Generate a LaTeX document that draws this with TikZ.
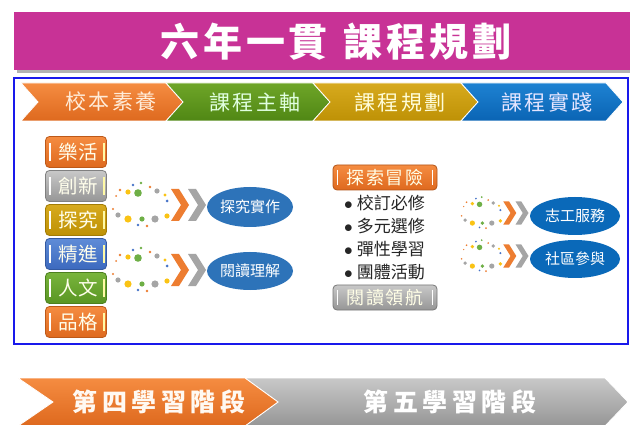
\documentclass[tikz,border=0pt]{standalone}
\usepackage{fontspec}
\newfontfamily\cjk{Noto Sans CJK TC}
\newfontfamily\cjkls{Noto Sans CJK TC}[LetterSpace=10]
\newfontfamily\cjkstage{Noto Sans CJK TC}[LetterSpace=18]
\usetikzlibrary{shapes.geometric}

\definecolor{banner}{RGB}{200,50,150}
\definecolor{frameblue}{RGB}{25,25,235}
\definecolor{orangeA}{RGB}{245,140,65}
\definecolor{orangeB}{RGB}{222,105,30}
\definecolor{greenA}{RGB}{110,165,40}
\definecolor{greenB}{RGB}{80,135,20}
\definecolor{goldA}{RGB}{215,170,30}
\definecolor{goldB}{RGB}{190,145,5}
\definecolor{blueA}{RGB}{30,130,210}
\definecolor{blueB}{RGB}{10,100,180}
\definecolor{grayA}{RGB}{200,200,200}
\definecolor{grayB}{RGB}{150,150,150}
\definecolor{boxblueA}{RGB}{95,140,215}
\definecolor{boxblueB}{RGB}{60,105,190}
\definecolor{boxgreenA}{RGB}{120,180,60}
\definecolor{boxgreenB}{RGB}{90,150,35}
\definecolor{ellblue}{RGB}{45,115,185}
\definecolor{ellblue2}{RGB}{10,105,185}
\definecolor{dotgreen}{RGB}{110,175,70}
\definecolor{dotgray}{RGB}{165,165,165}
\definecolor{dotyellow}{RGB}{250,195,20}
\definecolor{dotorange}{RGB}{237,125,49}
\definecolor{dotblue}{RGB}{70,115,200}

\tikzset{
  titletext/.style={text=white, font=\cjkls\bfseries\fontsize{39}{39}\selectfont},
  stagetitle/.style={font=\cjkstage\bfseries\fontsize{25}{25}\selectfont},
  chevtext/.style={font=\cjkls\fontsize{21}{21}\selectfont},
  chevline/.style={draw=white, line width=0.8pt},
  tagbox/.style={rounded corners=4pt, minimum width=61pt, minimum height=31pt, inner sep=0pt,
    line width=0.8pt, text=white!92!yellow, font=\cjk\fontsize{19.5}{19.5}\selectfont},
  pathbox/.style={rounded corners=4pt, minimum width=104pt, minimum height=25pt, inner sep=0pt,
    line width=0.8pt, text=white!90!yellow, font=\cjkls\fontsize{18}{18}\selectfont},
  litebar/.style={white, line width=1.6pt},
  sidebar/.style={yellow!35!white, line width=1.6pt},
  item/.style={anchor=west, inner sep=0pt, text=black!85, font=\cjk\fontsize{17}{17}\selectfont},
  goal/.style={ellipse, minimum width=86pt, minimum height=40pt, inner sep=0pt, fill=ellblue,
    text=white, font=\cjk\fontsize{15}{15}\selectfont}
}

\begin{document}
\begin{tikzpicture}[x=1pt, y=-1pt]
\useasboundingbox (0,0) rectangle (630,425);

% banner
\fill[black!30] (17,15) rectangle (630,73);
\fill[banner] (14,12) rectangle (630,70);
\node[titletext] (title) at (336,42) {六年一貫\hspace{16pt}課程規劃};

% frame
\draw[frameblue, line width=2.5pt, fill=white] (14,78) rectangle (628,344);

% stage chevrons
\path[chevline, top color=orangeA, bottom color=orangeB] (21,83) -- (166,83) -- (183,102) -- (166,121) -- (21,121) -- (38,102) -- cycle;
\path[chevline, top color=greenA, bottom color=greenB] (166,83) -- (313,83) -- (330,102) -- (313,121) -- (166,121) -- (183,102) -- cycle;
\path[chevline, top color=goldA, bottom color=goldB] (313,83) -- (461,83) -- (478,102) -- (461,121) -- (313,121) -- (330,102) -- cycle;
\path[chevline, top color=blueA, bottom color=blueB] (461,83) -- (606,83) -- (623,102) -- (606,121) -- (461,121) -- (478,102) -- cycle;
\node[chevtext, text=white!85!orange] (school) at (111,102) {校本素養};
\node[chevtext, text=white!88!green] (axis) at (255,102) {課程主軸};
\node[chevtext, text=white!85!yellow] (plan) at (400,102) {課程規劃};
\node[chevtext, text=white!90!blue] (practice) at (547,102) {課程實踐};

% left column
\foreach \n/\t/\col [count=\i from 0] in {lehuo/樂活/orange, chuangxin/創新/gray, tanjiu/探究/gold,
    jingjin/精進/boxblue, renwen/人文/boxgreen, pinge/品格/orange}
{
  \node[tagbox, top color=\col A, bottom color=\col B, draw=\col B!85!black] (\n) at (76,{152+34*\i}) {\hspace{4pt}\t};
  \draw[litebar] ([xshift=5pt,yshift=-7pt]\n.north west) -- ([xshift=5pt,yshift=7pt]\n.south west);
  \draw[sidebar] ([xshift=-3pt,yshift=-7pt]\n.north east) -- ([xshift=-3pt,yshift=7pt]\n.south east);
}

% dot rings
\foreach \cx/\cy/\s in {140/205/1, 140/270/1, 481/213/0.72, 481/256/0.72}
{
  \begin{scope}[shift={(\cx,\cy)}, scale=\s]
    \foreach \dx/\dy/\r/\dc in {1/-22/1.3/dotgreen, -7/-20/1.3/dotblue, 10/-18/1.3/dotorange,
        -20/-15/1.3/dotorange, -12/-13/2.6/dotyellow, -2/-12/3.8/dotgreen, 17/-14/2.6/dotgray,
        -24/-9/1/dotorange, 25/-10/1.6/dotyellow, 27/-4/1.5/dotblue, -27/4/1.2/dotorange,
        -22/10/2.6/dotgray, -12/14/3.6/dotyellow, 2/14/2.6/dotgreen, 15/14/3.6/dotgray,
        27/11/2.6/dotyellow, -2/20/1.3/dotblue, 7/21/1.3/dotorange}
      \fill[\dc] (\dx,\dy) circle[radius=\r];
    \fill[dotorange] (31,-16) -- (39,-16) -- (49,0) -- (39,16) -- (31,16) -- (41,0) -- cycle;
    \fill[dotgray] (48,-16) -- (56,-16) -- (66,0) -- (56,16) -- (48,16) -- (58,0) -- cycle;
  \end{scope}
}

% goals
\node[goal] (inquiry) at (250,207) {探究實作};
\node[goal, minimum height=38pt] (reading) at (250,271) {閱讀理解};
\node[goal, fill=ellblue2, minimum width=90pt, minimum height=38pt] (service) at (575,216) {志工服務};
\node[goal, fill=ellblue2, minimum width=90pt, minimum height=38pt] (community) at (575,259) {社區參與};

% middle column
\node[pathbox, top color=orangeA, bottom color=orangeB, draw=orangeB!80!black] (explore) at (385,177.5) {探索冒險};
\node[pathbox, top color=grayA, bottom color=grayB, draw=grayB!80!black] (guide) at (385,297.5) {閱讀領航};
\foreach \n in {explore, guide}
{
  \draw[litebar] ([xshift=5pt,yshift=-5pt]\n.north west) -- ([xshift=5pt,yshift=5pt]\n.south west);
  \draw[litebar] ([xshift=-5pt,yshift=-5pt]\n.north east) -- ([xshift=-5pt,yshift=5pt]\n.south east);
}
\foreach \n/\t [count=\i from 0] in {required/校訂必修, elective/多元選修, flexible/彈性學習, group/團體活動}
  \node[item] (\n) at (344,{203+23*\i}) {$\bullet$\hspace{4pt}\t};

% learning stages
\path[chevline, top color=grayA, bottom color=grayB] (245,378) -- (605,378) -- (628,402) -- (605,426) -- (245,426) -- (278,402) -- cycle;
\path[chevline, top color=orangeA, bottom color=orangeB] (18,378) -- (245,378) -- (278,402) -- (245,426) -- (18,426) -- (53,402) -- cycle;
\node[stagetitle, text=white!95!orange] (stagefour) at (159,402) {第四學習階段};
\node[stagetitle, text=white] (stagefive) at (450,402) {第五學習階段};

\end{tikzpicture}
\end{document}
